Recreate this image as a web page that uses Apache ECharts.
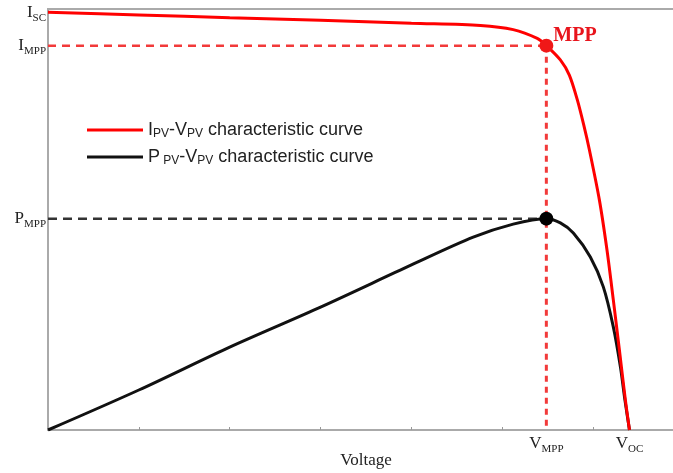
<!DOCTYPE html>
<html>
<head>
<meta charset="utf-8">
<script src="https://cdn.jsdelivr.net/npm/echarts@6/dist/echarts.min.js"></script>
<style>
  html, body { margin: 0; padding: 0; background: #fff; }
  #chart { width: 673px; height: 473px; }
</style>
</head>
<body>
<div id="chart"></div>
<script>
// I-V curve (normalised current vs voltage)
const ivVoltage = [0, 1.0, 2.0, 3.0, 4.0, 4.76, 5.12, 5.385, 5.485, 5.639, 5.738, 5.826, 5.897, 5.959, 6.069, 6.152, 6.222, 6.289, 6.355, 6.40];
const ivCurrent = [0.992, 0.986, 0.979, 0.973, 0.966, 0.961, 0.951, 0.930, 0.913, 0.879, 0.843, 0.784, 0.724, 0.665, 0.546, 0.428, 0.309, 0.190, 0.071, 0];

// P-V curve (normalised power vs voltage)
const pvVoltage = [0, 1.0, 2.0, 3.0, 4.0, 4.68, 5.12, 5.485, 5.639, 5.782, 5.969, 6.112, 6.222, 6.300, 6.350, 6.40];
const pvPower = [0, 0.095, 0.197, 0.292, 0.392, 0.458, 0.489, 0.502, 0.492, 0.468, 0.411, 0.340, 0.245, 0.150, 0.071, 0];

// key points
const V_MPP = 5.485, V_OC = 6.40;
const I_SC = 0.992, I_MPP = 0.913, P_MPP = 0.502;

const xTicks = [1, 2, 3, 4, 5, 6];
const xLabels = [V_MPP, V_OC];
const yLabels = [I_SC, I_MPP, P_MPP];

const zip = (a, b) => a.map((v, i) => [v, b[i]]);

const serif = 'Liberation Serif, Times New Roman, serif';
const sans = 'Liberation Sans, Arial, sans-serif';

const subRich = {
  m: { fontFamily: serif, fontSize: 17, color: '#222', lineHeight: 22, verticalAlign: 'middle' },
  s: { fontFamily: serif, fontSize: 11, color: '#222', lineHeight: 8, verticalAlign: 'bottom' }
};

const near = (a, b) => Math.abs(a - b) < 1e-6;

const chart = echarts.init(document.getElementById('chart'));

const option = {
  animation: false,
  backgroundColor: '#fff',
  grid: {
    left: 48, top: 9, right: -11, bottom: 43,
    outerBoundsMode: 'none',
    show: true, borderColor: '#aaa', borderWidth: 2
  },
  legend: {
    data: ['ipv', 'ppv'],
    orient: 'vertical',
    left: 87, top: 121, padding: 0,
    itemWidth: 56, itemHeight: 3, itemGap: 8,
    icon: 'rect',
    formatter: name => name === 'ipv'
      ? '{t|I}{s|PV}{t|-V}{s|PV}{t| characteristic curve}'
      : '{t|P}{s| PV}{t|-V}{s|PV}{t| characteristic curve}',
    textStyle: {
      rich: {
        t: { fontFamily: sans, fontSize: 18, color: '#222', lineHeight: 20, verticalAlign: 'middle' },
        s: { fontFamily: sans, fontSize: 12, color: '#222', lineHeight: 10, verticalAlign: 'bottom' }
      }
    }
  },
  xAxis: {
    type: 'value', min: 0, max: 7,
    name: 'Voltage', nameLocation: 'middle', nameGap: 22, nameMoveOverlap: false,
    nameTextStyle: { fontFamily: serif, fontSize: 17, color: '#222' },
    axisLine: { lineStyle: { color: '#aaa', width: 2 } },
    axisTick: { inside: true, length: 3, customValues: xTicks, lineStyle: { color: '#999' } },
    axisLabel: {
      customValues: xLabels, margin: 3,
      formatter: v => near(v, V_MPP) ? '{m|V}{s|MPP}' : '{m|V}{s|OC}',
      rich: subRich
    },
    splitLine: { show: false }
  },
  yAxis: {
    type: 'value', min: 0, max: 1,
    axisLine: { show: true, lineStyle: { color: '#aaa', width: 2 } },
    axisTick: { show: false },
    axisLabel: {
      customValues: yLabels, margin: 2,
      formatter: v => near(v, I_SC) ? '{m|I}{s|SC}' : near(v, I_MPP) ? '{m|I}{s|MPP}' : '{m|P}{s|MPP}',
      rich: subRich
    },
    splitLine: { show: false }
  },
  series: [
    {
      name: 'imppH', type: 'line', symbol: 'none', silent: true,
      data: [[0, I_MPP], [V_MPP, I_MPP]],
      lineStyle: { color: '#f23a3a', width: 2.5, type: [8, 6] }
    },
    {
      name: 'pmppH', type: 'line', symbol: 'none', silent: true,
      data: [[0, P_MPP], [V_MPP, P_MPP]],
      lineStyle: { color: '#333', width: 2.5, type: [9, 6] }
    },
    {
      name: 'vmppV', type: 'line', symbol: 'none', silent: true,
      data: [[V_MPP, I_MPP], [V_MPP, 0]],
      lineStyle: { color: '#f23a3a', width: 3, type: [6, 5] }
    },
    {
      name: 'ppv', type: 'line', symbol: 'none', smooth: 0.3,
      color: '#111',
      data: zip(pvVoltage, pvPower),
      lineStyle: { color: '#111', width: 3 }
    },
    {
      name: 'ipv', type: 'line', symbol: 'none', smooth: 0.3,
      color: '#f00',
      data: zip(ivVoltage, ivCurrent),
      lineStyle: { color: '#f00', width: 3 }
    },
    {
      name: 'mpp', type: 'scatter', symbolSize: 14, z: 10,
      data: [
        { value: [V_MPP, I_MPP], itemStyle: { color: '#f01818', opacity: 1 },
          label: { show: true, formatter: 'MPP', position: 'right', distance: 0, offset: [0, -10],
            fontFamily: serif, fontWeight: 'bold', fontSize: 20, color: '#e8141c' } },
        { value: [V_MPP, P_MPP], itemStyle: { color: '#000', opacity: 1 } }
      ]
    }
  ]
};

chart.setOption(option);
</script>
</body>
</html>
